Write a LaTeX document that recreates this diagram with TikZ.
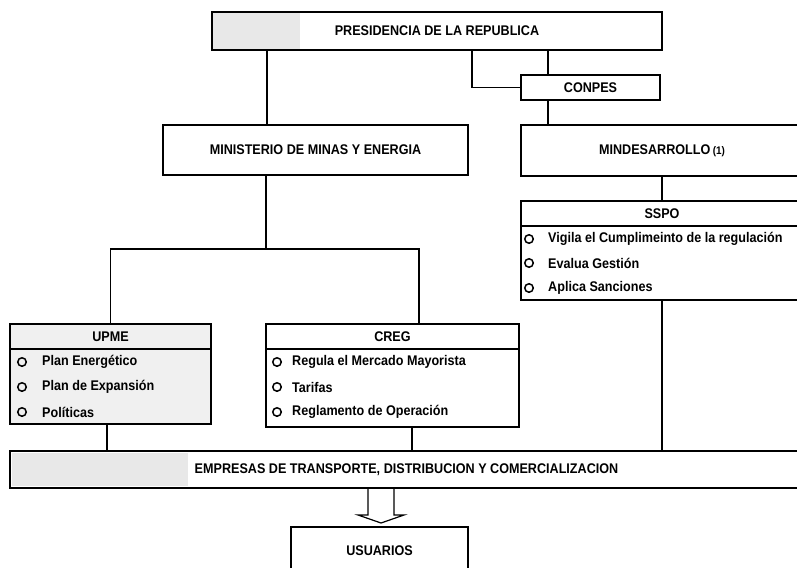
\documentclass[tikz,border=0pt]{standalone}
\usepackage{fontspec}
\newfontfamily\orgfont[FakeStretch=0.9]{Liberation Sans}
\usetikzlibrary{positioning}

\begin{document}
\begin{tikzpicture}[
    x=1pt, y=-1pt,
    every node/.style={font=\orgfont\bfseries\fontsize{14}{16}\selectfont},
    box/.style={rectangle,draw,fill=white,line width=1.2pt,inner sep=0pt,outer sep=0pt},
    list/.style={box,minimum height=75pt},
    bullet/.style={circle,draw,line width=1.5pt,minimum size=8.5pt,inner sep=0pt},
    item/.style={inner sep=0pt,anchor=west},
    link/.style={line width=1.2pt},
    scan/.style={fill=black!9,draw=none},
]
\useasboundingbox (0,0) rectangle (797,567);
\clip (0,0) rectangle (797,567);

% top levels
\node[box, minimum width=450pt, minimum height=38pt] (pres) at (437,31) {PRESIDENCIA DE LA REPUBLICA};
\fill[scan] (213,13) rectangle (300,49);
\node[box, minimum width=139pt, minimum height=25pt] (conpes) at (590.5,87.5) {CONPES};
\node[box, minimum width=305pt, minimum height=50pt] (mini) at (315.5,150) {MINISTERIO DE MINAS Y ENERGIA};
\node[box, minimum width=282pt, minimum height=51pt] (mindes) at (662,150.5) {MINDESARROLLO\,{\fontsize{11}{12}\selectfont(1)}};

% SSPO
\node[box, minimum width=282pt, minimum height=25pt] (sspohead) at (662,213.5) {SSPO};
\node[list, minimum width=282pt, minimum height=74pt, below=0pt of sspohead] (sspolist) {};
\node[bullet] (s1) at (529,239) {};
\node[item, right=14pt of s1] {Vigila el Cumplimeinto de la regulación};
\node[bullet] (s2) at (529,263) {};
\node[item, right=14pt of s2] {Evalua Gestión};
\node[bullet] (s3) at (529,288) {};
\node[item, right=14pt of s3] {Aplica Sanciones};

% UPME
\node[box, fill=black!6, minimum width=201pt, minimum height=25pt] (upmehead) at (110.5,336.5) {UPME};
\node[list, fill=black!6, minimum width=201pt, below=0pt of upmehead] (upmelist) {};
\node[bullet] (u1) at (22,362) {};
\node[item, right=15pt of u1] {Plan Energético};
\node[bullet] (u2) at (22,387) {};
\node[item, right=15pt of u2] {Plan de Expansión};
\node[bullet] (u3) at (22,412) {};
\node[item, right=15pt of u3] {Políticas};

% CREG
\node[box, minimum width=253pt, minimum height=25pt] (creghead) at (392.5,336.5) {CREG};
\node[list, minimum width=253pt, minimum height=78pt, below=0pt of creghead] (creglist) {};
\node[bullet] (c1) at (277,362) {};
\node[item, right=10pt of c1] {Regula el Mercado Mayorista};
\node[bullet] (c2) at (277,387) {};
\node[item, right=10pt of c2] {Tarifas};
\node[bullet] (c3) at (277,412) {};
\node[item, right=10pt of c3] {Reglamento de Operación};

% bottom
\node[box, minimum width=793pt, minimum height=37pt] (empresas) at (406.5,469.5) {EMPRESAS DE TRANSPORTE, DISTRIBUCION Y COMERCIALIZACION};
\fill[scan] (12,453) rectangle (188,486);
\node[box, minimum width=177pt, minimum height=48pt] (usuarios) at (379.5,551) {USUARIOS};

% connectors
\draw[link] ([xshift=-48.5pt]mini.north |- pres.south) -- ([xshift=-48.5pt]mini.north);
\draw[link] ([xshift=35pt]pres.south) |- (conpes.west);
\draw[link] ([xshift=-42.5pt]conpes.north |- pres.south) -- ([xshift=-42.5pt]conpes.north);
\draw[link] ([xshift=-42.5pt]conpes.south) -- ([xshift=-42.5pt]conpes.south |- mindes.north);
\draw[link] (mindes) -- (sspohead);
\draw[link] ([xshift=-49.5pt]mini.south) -- ++(0,74) coordinate (fork);
\draw[link] (upmehead.north) |- (fork) -| ([xshift=26.5pt]creghead.north);
\draw[link] ([xshift=-3.5pt]upmelist.south) -- ([xshift=-3.5pt]upmelist.south |- empresas.north);
\draw[link] ([xshift=19.5pt]creglist.south) -- ([xshift=19.5pt]creglist.south |- empresas.north);
\draw[link] (sspolist.south) -- (sspolist.south |- empresas.north);

% arrow to users
\draw[link] ([xshift=-38.5pt]empresas.south) -- ++(0,27) -- ++(-10,0) -- ++(23,8)
    -- ++(23,-8) -- ++(-10,0) -- ++(0,-27);
\end{tikzpicture}
\end{document}
